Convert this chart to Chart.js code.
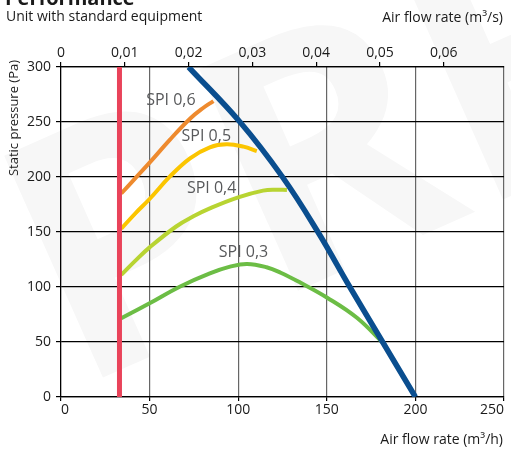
<!DOCTYPE html>
<html>
<head>
<meta charset="utf-8">
<script src="https://cdn.jsdelivr.net/npm/chart.js@4.4.1/dist/chart.umd.min.js"></script>
<style>
  html, body { margin: 0; padding: 0; background: #fff; }
</style>
</head>
<body>
<canvas id="myChart" width="511" height="450"></canvas>
<script>
// air flow in m3/h, pressure in Pa
const flowTicks = [0, 50, 100, 150, 200, 250];
const pressureTicks = [0, 50, 100, 150, 200, 250, 300];

const minFlow = 33; // red limit line
const unitFlow = [72, 101, 125, 145, 163, 181.5, 200];
const unitPressure = [300, 250, 200, 150, 100, 50, 0];

const spi06Flow = [34, 42, 50, 61.5, 72.8, 80, 86];
const spi06Pressure = [185, 199, 213, 234, 253, 262.5, 269];

const spi05Flow = [34, 42, 50, 61.5, 72.8, 84, 93.5, 103, 110.5];
const spi05Pressure = [153, 167, 180, 200.5, 217, 227, 229.7, 227.6, 223.6];

const spi04Flow = [34, 42, 50, 65, 75, 84, 100, 114, 121, 127.5];
const spi04Pressure = [111, 124, 136, 155, 164.5, 171.5, 181.5, 187.6, 188.5, 188.2];

const spi03Flow = [34, 50, 67, 84, 95.4, 105, 116, 124, 135, 150, 167, 183];
const spi03Pressure = [71.5, 85.2, 100.3, 112.4, 118.5, 121, 118, 113, 104, 90.5, 72, 47];

const spiNames = ['SPI 0,6', 'SPI 0,5', 'SPI 0,4', 'SPI 0,3'];
const spiLabelFlow = [62, 82, 85, 103];
const spiLabelPressure = [270, 237, 190, 131];

const toPoints = (xs, ys) => xs.map((x, i) => ({ x: x, y: ys[i] }));

const FONT = '"Open Sans", sans-serif';

const textPlugin = {
  id: 'texts',
  beforeDraw(chart) {
    // faint watermark
    const ctx = chart.ctx;
    ctx.save();
    ctx.fillStyle = '#f7f7f7';
    ctx.font = 'bold 340px ' + FONT;
    ctx.translate(75, 390);
    ctx.rotate(-24 * Math.PI / 180);
    ctx.fillText('PRELIMINARY', 0, 0);
    ctx.restore();
  },
  afterDraw(chart) {
    const ctx = chart.ctx;
    const x = chart.scales.x;
    const y = chart.scales.y;
    ctx.save();
    ctx.fillStyle = '#1a1a1a';
    ctx.textBaseline = 'alphabetic';
    ctx.font = 'bold 20px ' + FONT;
    ctx.fillText('Performance', 5, 5);
    ctx.font = '14px ' + FONT;
    ctx.fillText('Unit with standard equipment', 6, 21);
    ctx.textAlign = 'right';
    ctx.fillText('Air flow rate (m³/s)', 503, 22);
    ctx.fillText('Air flow rate (m³/h)', 503, 444);

    ctx.save();
    ctx.translate(18, 118);
    ctx.rotate(-Math.PI / 2);
    ctx.textAlign = 'center';
    ctx.font = '13px ' + FONT;
    ctx.fillText('Static pressure (Pa)', 0, 0);
    ctx.restore();

    ctx.fillStyle = '#58595b';
    ctx.font = '16px ' + FONT;
    ctx.textAlign = 'center';
    ctx.textBaseline = 'middle';
    spiNames.forEach((name, i) => {
      ctx.fillText(name, x.getPixelForValue(spiLabelFlow[i]), y.getPixelForValue(spiLabelPressure[i]));
    });
    ctx.restore();
  }
};

const lineSet = (data, color, width, order) => ({
  data: data,
  showLine: true,
  borderColor: color,
  borderWidth: width,
  pointRadius: 0,
  tension: 0.4,
  order: order
});

new Chart(
  document.getElementById('myChart'),
  {
    type: 'scatter',
    data: {
      datasets: [
        lineSet([{ x: minFlow, y: 0 }, { x: minFlow, y: 300 }], '#e9435a', 5, 0),
        lineSet(toPoints(unitFlow, unitPressure), '#0a4e8f', 5.5, 1),
        lineSet(toPoints(spi06Flow, spi06Pressure), '#ee8a2e', 4, 2),
        lineSet(toPoints(spi05Flow, spi05Pressure), '#fbc500', 4, 3),
        lineSet(toPoints(spi04Flow, spi04Pressure), '#b8d432', 4, 4),
        lineSet(toPoints(spi03Flow, spi03Pressure), '#6cbd45', 4, 5)
      ]
    },
    options: {
      responsive: false,
      animation: false,
      layout: { padding: { left: 0, right: 7, top: 0, bottom: 0 } },
      plugins: {
        legend: { display: false },
        tooltip: { enabled: false }
      },
      scales: {
        x: {
          type: 'linear',
          position: 'bottom',
          min: flowTicks[0],
          max: flowTicks[flowTicks.length - 1],
          afterBuildTicks: scale => { scale.ticks = flowTicks.map(v => ({ value: v })); },
          afterFit: scale => { scale.height = 53; scale.paddingLeft = 0; scale.paddingRight = 0; },
          ticks: { color: '#1a1a1a', font: { family: FONT, size: 14 }, padding: 1, align: 'inner', maxRotation: 0 },
          grid: { color: '#666', lineWidth: 1.2, tickLength: 4, tickColor: '#000' },
          border: { color: '#000', width: 1.2 }
        },
        x2: {
          type: 'linear',
          position: 'top',
          min: 0,
          max: flowTicks[flowTicks.length - 1] / 3600,
          afterFit: scale => { scale.height = 67; scale.paddingLeft = 0; scale.paddingRight = 0; },
          ticks: {
            stepSize: 0.01,
            includeBounds: false,
            color: '#1a1a1a',
            font: { family: FONT, size: 14 },
            padding: 1,
            maxRotation: 0,
            callback: value => value === 0 ? '0' : value.toFixed(2).replace('.', ',')
          },
          grid: { drawOnChartArea: false, tickLength: 5, color: '#000', lineWidth: 1.2 },
          border: { color: '#000', width: 1.2 }
        },
        y: {
          min: pressureTicks[0],
          max: pressureTicks[pressureTicks.length - 1],
          afterBuildTicks: scale => { scale.ticks = pressureTicks.map(v => ({ value: v })); },
          afterFit: scale => { scale.width = 61; },
          ticks: { color: '#1a1a1a', font: { family: FONT, size: 14 }, padding: 5 },
          grid: { color: '#000', lineWidth: 1.2, tickLength: 5 },
          border: { color: '#000', width: 1.2 }
        }
      }
    },
    plugins: [textPlugin]
  }
);
</script>
</body>
</html>
